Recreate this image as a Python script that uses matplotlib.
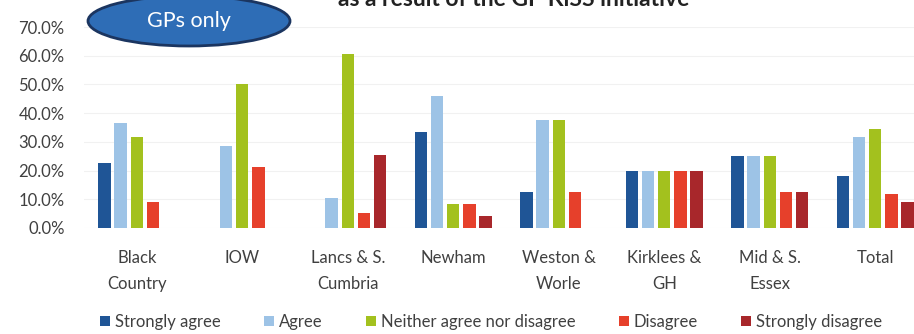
import matplotlib
matplotlib.use("Agg")
import matplotlib.pyplot as plt
from matplotlib.patches import Ellipse, Patch
from matplotlib.ticker import PercentFormatter
import numpy as np

plt.rcParams['font.family'] = ['Lato', 'DejaVu Sans']

categories = ["Black\nCountry", "IOW", "Lancs & S.\nCumbria", "Newham",
              "Weston &\nWorle", "Kirklees &\nGH", "Mid & S.\nEssex", "Total"]
series_names = ["Strongly agree", "Agree", "Neither agree nor disagree",
                "Disagree", "Strongly disagree"]
strongly_agree = [22.7, 0.0, 0.0, 33.3, 12.5, 20.0, 25.0, 18.0]
agree = [36.4, 28.6, 10.5, 45.8, 37.5, 20.0, 25.0, 31.6]
neither = [31.8, 50.0, 60.5, 8.3, 37.5, 20.0, 25.0, 34.6]
disagree = [9.1, 21.4, 5.3, 8.3, 12.5, 20.0, 12.5, 11.8]
strongly_disagree = [0.0, 0.0, 25.5, 4.2, 0.0, 20.0, 12.5, 9.0]
yticks = [0, 10, 20, 30, 40, 50, 60, 70]

colors = ["#1F5596", "#9DC3E6", "#A3C11E", "#E6402B", "#A8272B"]
series = [strongly_agree, agree, neither, disagree, strongly_disagree]

W, H = 914, 334
fig = plt.figure(figsize=(W / 100, H / 100), dpi=100)
ax = fig.add_axes([84 / W, 106 / H, 844 / W, 201 / H])

x = np.arange(len(categories))
slot = 0.152
bw = 0.118
for i, (vals, c) in enumerate(zip(series, colors)):
    ax.bar(x + (i - 2) * slot, vals, width=bw, color=c, zorder=3,
           label=series_names[i])

ax.set_xlim(-0.5, len(categories) - 0.5)
ax.set_ylim(0, 70)
ax.set_yticks(yticks)
ax.yaxis.set_major_formatter(PercentFormatter(decimals=1))
ax.set_xticks(x)
ax.set_xticklabels(categories, linespacing=1.75)
ax.tick_params(axis='y', length=0, pad=14, labelsize=12, labelcolor="#404040")
ax.tick_params(axis='x', length=0, pad=16, labelsize=12, labelcolor="#404040")
for s in ax.spines.values():
    s.set_visible(False)
ax.grid(axis='y', color="#f1f1f1", linewidth=0.8, zorder=0)

# Title (sits partly above the top edge)
fig.text(514 / W, 1.0 + 1 / H, "as a result of the GP KiSS initiative",
         ha='center', va='center', fontsize=16.5, fontweight='bold',
         color="#222222")

# Badge
badge = Ellipse((189 / W, 1 - 21 / H), 202 / W, 50 / H,
                transform=fig.transFigure, facecolor="#2E6DB6",
                edgecolor="#1B3560", linewidth=2, zorder=5)
fig.add_artist(badge)
fig.text(189 / W, 1 - 21 / H, "GPs only", ha='center', va='center',
         fontsize=15.5, color="white", zorder=6)

handles = [Patch(facecolor=c, edgecolor='none') for c in colors]
fig.legend(handles, series_names, loc='center', ncol=5,
           bbox_to_anchor=(491 / W, 12 / H), frameon=False,
           fontsize=12, handlelength=0.6, handleheight=0.6,
           handletextpad=0.3, columnspacing=2.6, labelcolor="#404040")

fig.savefig("out.png", dpi=100)
